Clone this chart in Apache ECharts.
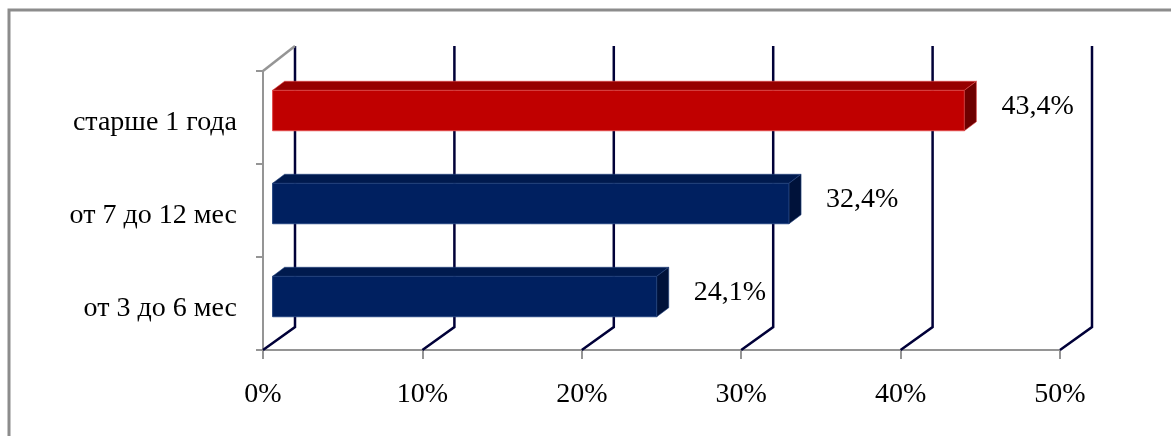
<!DOCTYPE html>
<html>
<head>
<meta charset="utf-8">
<script src="https://cdn.jsdelivr.net/npm/echarts@6/dist/echarts.min.js"></script>
<style>
html,body{margin:0;padding:0;background:#fff;}
#c{width:1171px;height:436px;}
</style>
</head>
<body>
<div id="c"></div>
<script>
// ---- data ----
const categories = ['от 3 до 6 мес', 'от 7 до 12 мес', 'старше 1 года'];
const values = [24.1, 32.4, 43.4];
const xTicks = [0, 10, 20, 30, 40, 50];

// ---- style constants ----
const FONT = '"Liberation Serif", "Times New Roman", serif';
const navy = { front: '#002060', top: '#001a4e', side: '#00123a', edge: '#23437f' };
const red = { front: '#c00000', top: '#960000', side: '#6e0000', edge: '#e04848' };
const barStyles = [navy, navy, red];
const DEPTH_X = 32, DEPTH_Y = -23;

const chart = echarts.init(document.getElementById('c'), null, { renderer: 'canvas' });

function gridItem(params, api) {
  const cs = params.coordSys;
  const x = api.coord([api.value(0), 0])[0];
  const bottom = cs.y + cs.height;
  const top = cs.y;
  const children = [{
    type: 'polyline',
    shape: { points: [[x, bottom], [x + DEPTH_X, bottom + DEPTH_Y], [x + DEPTH_X, top - 25]] },
    style: { stroke: '#000038', lineWidth: 2.5, fill: null }
  }];
  if (params.dataIndex === 0) {
    children.push({
      type: 'line',
      shape: { x1: x, y1: top, x2: x + DEPTH_X, y2: top - 25 },
      style: { stroke: '#959595', lineWidth: 2.5 }
    });
  }
  return { type: 'group', children };
}

function barItem(params, api) {
  const v = api.value(0);
  const cat = api.value(1);
  const p0 = api.coord([0, cat]);
  const p1 = api.coord([v, cat]);
  const band = api.size([0, 1])[1];
  const h = band * 0.435;
  const offX = 9.6;
  const cy = p0[1] - 7;
  const xa = p0[0] + offX, xb = p1[0] + offX;
  const yt = cy - h / 2, yb = cy + h / 2;
  const dx = 12, dy = -9;
  const s = barStyles[params.dataIndex];
  const label = v.toFixed(1).replace('.', ',') + '%';
  return {
    type: 'group',
    children: [
      { type: 'rect', shape: { x: xa, y: yt, width: xb - xa, height: h },
        style: { fill: s.front, stroke: s.edge, lineWidth: 1 } },
      { type: 'polygon', shape: { points: [[xa, yt], [xb, yt], [xb + dx, yt + dy], [xa + dx, yt + dy]] },
        style: { fill: s.top, stroke: s.edge, lineWidth: 0.6 } },
      { type: 'polygon', shape: { points: [[xb, yt], [xb + dx, yt + dy], [xb + dx, yb + dy], [xb, yb]] },
        style: { fill: s.side, stroke: s.edge, lineWidth: 0.6 } },
      { type: 'text', x: xb + 37, y: cy - 4,
        style: { text: label, font: '28px ' + FONT, fill: '#000', verticalAlign: 'middle', align: 'left' } }
    ]
  };
}

chart.setOption({
  animation: false,
  backgroundColor: '#fff',
  grid: { left: 263, right: 111, top: 71, bottom: 86, containLabel: false },
  xAxis: {
    type: 'value', min: 0, max: 50, interval: 10,
    axisLine: { show: true, lineStyle: { color: '#959595', width: 2 } },
    axisTick: { show: true, length: 9, lineStyle: { color: '#959595', width: 2 } },
    splitLine: { show: false },
    axisLabel: { margin: 31, fontFamily: FONT, fontSize: 28, color: '#000', formatter: v => v + '%' }
  },
  yAxis: {
    type: 'category', data: categories,
    axisLine: { show: true, lineStyle: { color: '#959595', width: 2 } },
    axisTick: { show: true, length: 7, lineStyle: { color: '#959595', width: 2 } },
    splitLine: { show: false },
    axisLabel: { margin: 26, fontFamily: FONT, fontSize: 28, color: '#000', verticalAlign: 'top', lineHeight: 10 }
  },
  graphic: [{
    type: 'polyline', silent: true,
    shape: { points: [[9, 436], [9, 10], [1171, 10]] },
    style: { stroke: '#8c8c8c', lineWidth: 3, fill: null }
  }],
  series: [
    { type: 'custom', renderItem: gridItem, data: xTicks.map(t => [t]), encode: { x: 0 }, z: 1, silent: true },
    { type: 'custom', renderItem: barItem, data: values.map((v, i) => [v, i]), encode: { x: 0, y: 1 }, z: 5, silent: true }
  ]
});
</script>
</body>
</html>
